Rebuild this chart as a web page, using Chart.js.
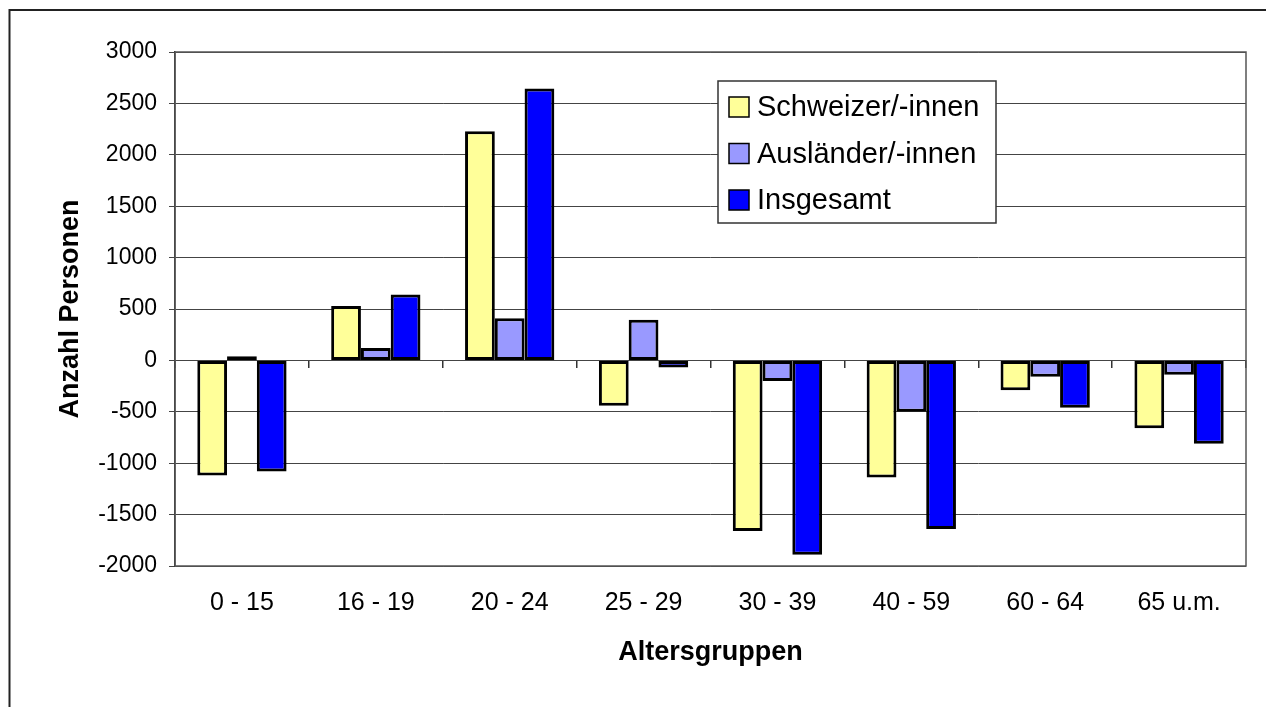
<!DOCTYPE html>
<html>
<head>
<meta charset="utf-8">
<script src="https://cdn.jsdelivr.net/npm/chart.js@4/dist/chart.umd.min.js"></script>
<style>
  html, body { margin: 0; padding: 0; background: #fff; }
  #wrap { width: 1266px; height: 707px; }
</style>
</head>
<body>
<div id="wrap"><canvas id="chart" width="1266" height="707"></canvas></div>
<script>
// age groups and net change per group
const altersgruppen = ["0 - 15", "16 - 19", "20 - 24", "25 - 29", "30 - 39", "40 - 59", "60 - 64", "65 u.m."];
const schweizer = [-1120, 530, 2230, -440, -1660, -1140, -290, -660];
const auslaender = [40, 120, 410, 395, -200, -500, -160, -140];
const insgesamt = [-1080, 640, 2645, -70, -1890, -1640, -460, -810];
const yTicks = [3000, 2500, 2000, 1500, 1000, 500, 0, -500, -1000, -1500, -2000];

const FONT = "'Liberation Sans', Arial, sans-serif";

// frame, plot border and legend box like the old Excel chart
const framePlugin = {
  id: "frame",
  beforeDraw(chart) {
    const ctx = chart.ctx;
    ctx.save();
    ctx.fillStyle = "#fff";
    ctx.fillRect(0, 0, chart.width, chart.height);
    ctx.strokeStyle = "#222";
    ctx.lineWidth = 2;
    ctx.beginPath();
    ctx.moveTo(9.5, chart.height + 5);
    ctx.lineTo(9.5, 10);
    ctx.lineTo(chart.width + 5, 10);
    ctx.stroke();
    ctx.restore();
  },
  afterDraw(chart) {
    const ctx = chart.ctx;
    const a = chart.chartArea;
    ctx.save();
    ctx.strokeStyle = "#555";
    ctx.lineWidth = 1.5;
    ctx.strokeRect(a.left, a.top, a.right - a.left, a.bottom - a.top);

    // legend
    const bx = 718, by = 81, bw = 278, bh = 142;
    ctx.fillStyle = "#fff";
    ctx.fillRect(bx, by, bw, bh);
    ctx.strokeStyle = "#333";
    ctx.lineWidth = 1.5;
    ctx.strokeRect(bx, by, bw, bh);
    ctx.font = "29px " + FONT;
    ctx.textBaseline = "middle";
    chart.data.datasets.forEach((ds, i) => {
      const cy = by + 26 + i * 46.5;
      ctx.fillStyle = ds.backgroundColor;
      ctx.fillRect(729, cy - 10, 20, 20);
      ctx.strokeStyle = "#000";
      ctx.lineWidth = 1.5;
      ctx.strokeRect(729, cy - 10, 20, 20);
      ctx.fillStyle = "#000";
      ctx.fillText(ds.label, 757, cy + 1);
    });
    ctx.restore();
  }
};

const ctx = document.getElementById("chart").getContext("2d");
new Chart(ctx, {
  type: "bar",
  data: {
    labels: altersgruppen,
    datasets: [
      { label: "Schweizer/-innen", data: schweizer, backgroundColor: "#FFFF99" },
      { label: "Ausländer/-innen", data: auslaender, backgroundColor: "#9999FF" },
      { label: "Insgesamt", data: insgesamt, backgroundColor: "#0000FF" }
    ]
  },
  options: {
    responsive: false,
    animation: false,
    events: [],
    layout: { padding: { left: 0, top: 52, right: 20, bottom: 0 } },
    datasets: {
      bar: {
        categoryPercentage: 0.667,
        barPercentage: 1,
        borderColor: "#000",
        borderWidth: 3,
        borderSkipped: false
      }
    },
    plugins: {
      legend: { display: false },
      tooltip: { enabled: false }
    },
    scales: {
      x: {
        grid: { display: false, drawTicks: false },
        border: { display: false },
        ticks: { color: "#000", font: { family: FONT, size: 25 }, padding: 22, maxRotation: 0 },
        title: {
          display: true, text: "Altersgruppen", color: "#000",
          font: { family: FONT, size: 27, weight: "bold" },
          padding: { top: 0, bottom: 38 }
        },
        afterFit(scale) { scale.height = 141; }
      },
      x2: {
        type: "category",
        position: { y: 0 },
        offset: true,
        grid: { offset: true, drawOnChartArea: false, tickLength: 8, color: "#333", lineWidth: 1.5 },
        border: { display: false },
        ticks: { display: false }
      },
      y: {
        min: -2000,
        max: 3000,
        afterBuildTicks(scale) { scale.ticks = yTicks.map(v => ({ value: v })); },
        grid: { color: "#444", lineWidth: 1, tickLength: 6 },
        border: { color: "#222", width: 1.5 },
        ticks: {
          color: "#000", font: { family: FONT, size: 23 }, padding: 12,
          callback: v => String(v)
        },
        title: {
          display: true, text: "Anzahl Personen", color: "#000",
          font: { family: FONT, size: 27, weight: "bold" },
          padding: { top: 54, bottom: 0 }
        },
        afterFit(scale) { scale.width = 175; }
      }
    }
  },
  plugins: [framePlugin]
});
</script>
</body>
</html>
